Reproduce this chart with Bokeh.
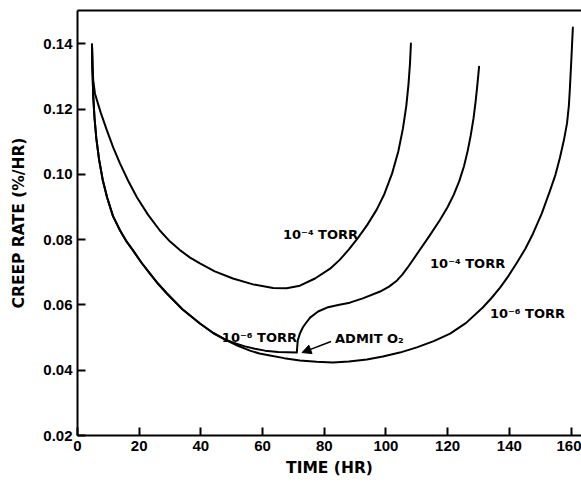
from bokeh.plotting import figure
from bokeh.models import (LinearAxis, FixedTicker, Range1d, Arrow, NormalHead,
                          ColumnDataSource)
from bokeh.core.properties import value
from bokeh.embed import file_html
from bokeh.resources import INLINE

# ---- data ----
x_ticks = [0, 20, 40, 60, 80, 100, 120, 140, 160]
x_tick_labels = ["0", "20", "40", "60", "80", "100", "120", "140", "160"]
y_ticks = [0.02, 0.04, 0.06, 0.08, 0.10, 0.12, 0.14]
y_tick_labels = ["0.02", "0.04", "0.06", "0.08", "0.10", "0.12", "0.14"]

# 10^-4 torr throughout
t_a = [4.7, 4.85, 5.1, 5.67, 7.5, 9.56, 11.6, 13.8, 16.5, 19.3, 22.9, 26.7,
       30.0, 33.2, 36.5, 39.7, 44.5, 50.4, 56.9, 63.4, 67.8, 72.1, 77.0, 81.9,
       85.0, 88.0, 91.0, 94.0, 97.0, 99.5, 102.0, 104.0, 105.5, 106.6, 107.3,
       107.8, 108.1]
r_a = [0.1398, 0.1335, 0.1288, 0.1247, 0.1190, 0.1134, 0.1082, 0.1033, 0.0979,
       0.0929, 0.0876, 0.0828, 0.0794, 0.0768, 0.0745, 0.0727, 0.0703, 0.0681,
       0.0663, 0.0652, 0.0651, 0.0659, 0.0681, 0.0711, 0.0738, 0.0770, 0.0806,
       0.0846, 0.0892, 0.0940, 0.1003, 0.1070, 0.1140, 0.1210, 0.1275, 0.1340,
       0.1401]

# 10^-6 torr, O2 admitted at ~71 h (then 10^-4 torr)
t_b = [4.7, 4.85, 5.1, 5.5, 6.1, 7.0, 8.2, 9.6, 11.5, 13.8, 16.0, 18.0, 20.7,
       23.5, 26.2, 29.0, 34.0, 39.7, 44.0, 48.5, 51.5, 54.3, 57.5, 60.8, 65.0,
       71.1, 71.4, 72.1, 73.0, 73.7, 75.4, 78.0, 80.9, 84.5, 88.3, 92.5, 98.1,
       101.0, 103.6, 105.3, 107.0, 110.5, 114.0, 117.5, 120.0, 122.0, 123.8,
       125.3, 126.5, 127.5, 128.4, 129.1, 129.7, 130.2]
r_b = [0.1398, 0.1320, 0.1240, 0.1175, 0.1110, 0.1045, 0.0982, 0.0929, 0.0872,
       0.0828, 0.0793, 0.0767, 0.0730, 0.0696, 0.0664, 0.0635, 0.0587, 0.0543,
       0.0514, 0.0491, 0.0481, 0.0473, 0.0466, 0.0460, 0.0456, 0.0454, 0.0491,
       0.0512, 0.0530, 0.0540, 0.0561, 0.0580, 0.0592, 0.0600, 0.0607, 0.0620,
       0.0641, 0.0656, 0.0675, 0.0693, 0.0714, 0.0762, 0.0810, 0.0860, 0.0900,
       0.0938, 0.0980, 0.1025, 0.1072, 0.1120, 0.1172, 0.1225, 0.1280, 0.1330]

# 10^-6 torr throughout
t_c = [4.7, 4.85, 5.1, 5.5, 6.1, 7.0, 8.2, 9.6, 11.5, 13.8, 16.0, 18.0, 20.7,
       23.5, 26.2, 29.0, 34.0, 39.7, 44.0, 48.5, 52.0, 55.9, 59.0, 62.4, 67.0,
       72.1, 77.5, 82.8, 88.0, 93.8, 99.0, 104.5, 110.0, 115.5, 120.8, 126.0,
       131.4, 134.3, 137.0, 139.8, 142.5, 145.2, 147.7, 150.5, 153.2, 155.0,
       156.4, 157.7, 158.7, 159.3, 159.6, 160.1, 160.6]
r_c = [0.1398, 0.1320, 0.1240, 0.1175, 0.1110, 0.1045, 0.0982, 0.0929, 0.0872,
       0.0828, 0.0793, 0.0767, 0.0730, 0.0696, 0.0664, 0.0635, 0.0587, 0.0543,
       0.0514, 0.0491, 0.0475, 0.0460, 0.0451, 0.0445, 0.0437, 0.0430, 0.0426,
       0.0424, 0.0427, 0.0433, 0.0442, 0.0454, 0.0470, 0.0489, 0.0512, 0.0545,
       0.0592, 0.0622, 0.0653, 0.0690, 0.0730, 0.0772, 0.0819, 0.0880, 0.0950,
       0.1000, 0.1051, 0.1105, 0.1156, 0.1210, 0.1257, 0.1350, 0.1450]

label_texts = ["10\u207b\u2074 TORR", "10\u207b\u2074 TORR", "10\u207b\u2076 TORR",
               "10\u207b\u2076 TORR", "ADMIT O\u2082"]
label_x = [66.6, 114.3, 133.7, 46.8, 83.5]
label_y = [0.0816, 0.0727, 0.0574, 0.0500, 0.0497]

arrow_from = (82.2, 0.0488)
arrow_to = (72.8, 0.0454)

x_title = "TIME (HR)"
y_title = "CREEP RATE (%/HR)"

# ---- figure ----
p = figure(width=581, height=484, output_backend="svg", toolbar_location=None,
           x_range=Range1d(0, 163.4), y_range=Range1d(0.02, 0.1502))
p.min_border_left = 77
p.min_border_right = 0
p.min_border_top = 10
p.min_border_bottom = 49
p.background_fill_color = "white"
p.border_fill_color = "white"
p.outline_line_color = None
p.xgrid.visible = False
p.ygrid.visible = False

for ax in (p.xaxis[0], p.yaxis[0]):
    ax.axis_line_width = 2
    ax.axis_line_color = "black"
    ax.major_tick_in = 8
    ax.major_tick_out = 0
    ax.major_tick_line_width = 2
    ax.minor_tick_line_color = None
    ax.major_label_text_font = "Liberation Sans"
    ax.major_label_text_font_style = "bold"
    ax.major_label_text_font_size = "15px"
    ax.major_label_text_color = "black"
    ax.axis_label_text_font = "DejaVu Sans"
    ax.axis_label_text_font_style = "bold"
    ax.axis_label_text_font_size = "15.5px"
    ax.axis_label_text_color = "black"

p.xaxis.ticker = FixedTicker(ticks=x_ticks)
p.xaxis.major_label_overrides = {t: s for t, s in zip(x_ticks, x_tick_labels)}
p.xaxis.major_label_standoff = 5
p.xaxis.axis_label = x_title
p.xaxis.axis_label_standoff = 5

p.yaxis.ticker = FixedTicker(ticks=y_ticks)
p.yaxis.major_label_overrides = {t: s for t, s in zip(y_ticks, y_tick_labels)}
p.yaxis.major_label_standoff = 5
p.yaxis.axis_label = y_title
p.yaxis.axis_label_standoff = 12

# top frame line only (no right-hand side in the reference)
top = LinearAxis(ticker=FixedTicker(ticks=[]), axis_line_width=2,
                 axis_line_color="black", major_tick_line_color=None,
                 minor_tick_line_color=None, major_label_standoff=0,
                 major_tick_out=0, major_tick_in=0)
p.add_layout(top, "above")

for t, r in ((t_a, r_a), (t_b, r_b), (t_c, r_c)):
    p.line(t, r, line_color="black", line_width=2, line_join="round", line_cap="round")

src = ColumnDataSource(dict(x=label_x, y=label_y, text=label_texts))
p.text(x="x", y="y", text="text", source=src, text_font=value("DejaVu Sans"),
       text_font_style="bold", text_font_size="13px", text_color="black",
       text_align="left", text_baseline="alphabetic")

p.add_layout(Arrow(end=NormalHead(size=9, fill_color="black", line_color="black"),
                   x_start=arrow_from[0], y_start=arrow_from[1],
                   x_end=arrow_to[0], y_end=arrow_to[1],
                   line_color="black", line_width=1.5))

open("out.html", "w").write(file_html(p, INLINE))
